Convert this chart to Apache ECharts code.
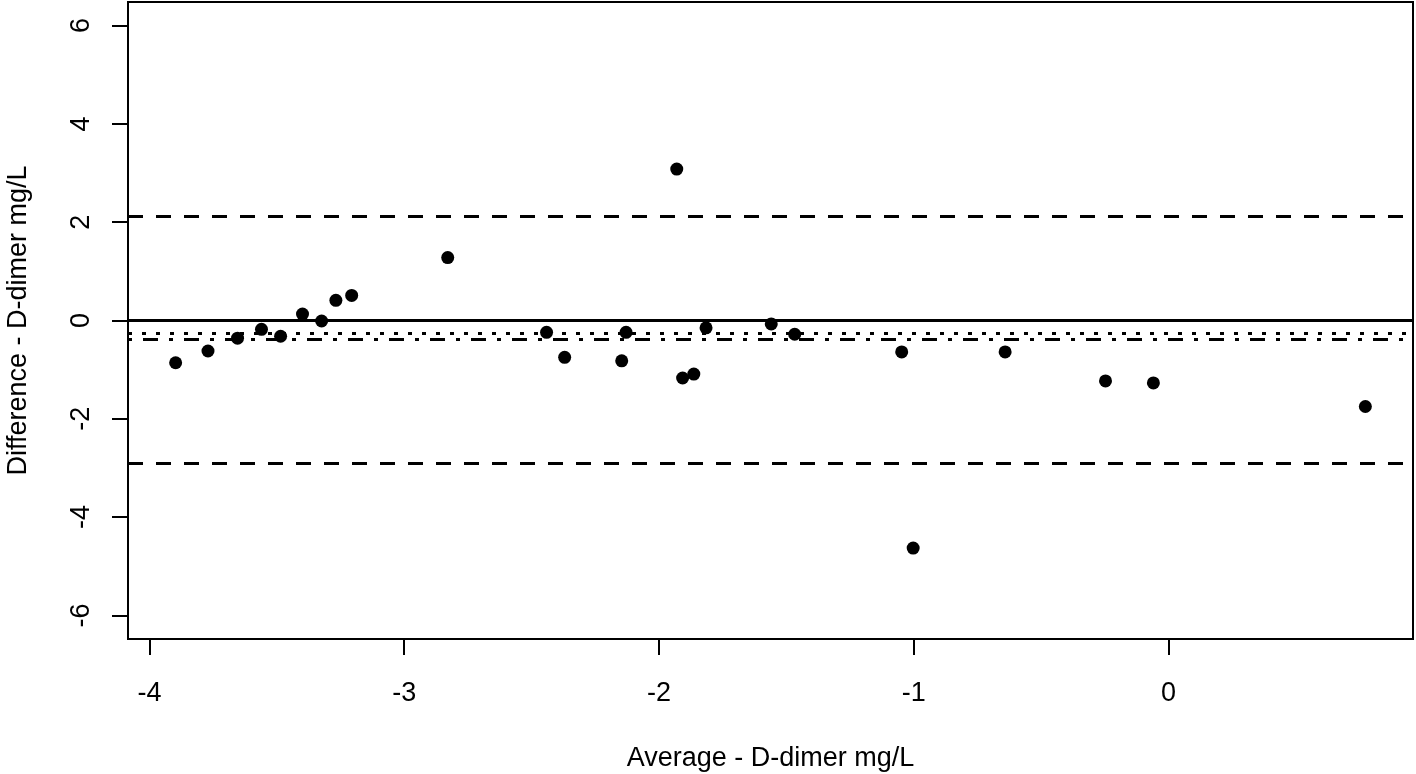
<!DOCTYPE html>
<html>
<head>
<meta charset="utf-8">
<title>Bland-Altman D-dimer</title>
<script src="https://cdn.jsdelivr.net/npm/echarts@6/dist/echarts.min.js"></script>
<style>
html, body { margin: 0; padding: 0; background: #fff; }
#baChart { width: 1416px; height: 774px; }
</style>
</head>
<body>
<div id="baChart"></div>
<script>
// average of the two methods (x) and their difference (y)
var avgValues = [-3.897, -3.770, -3.654, -3.560, -3.485, -3.399, -3.324, -3.268, -3.206, -2.829,
                 -2.441, -2.370, -2.146, -2.129, -1.930, -1.907, -1.863, -1.815, -1.559, -1.467,
                 -1.047, -1.002, -0.641, -0.247, -0.059, 0.773];
var diffValues = [-0.86, -0.62, -0.36, -0.18, -0.32, 0.13, -0.01, 0.41, 0.51, 1.28,
                  -0.24, -0.75, -0.82, -0.24, 3.08, -1.17, -1.09, -0.15, -0.07, -0.28,
                  -0.64, -4.63, -0.64, -1.23, -1.27, -1.75];
var xTicks = [-4, -3, -2, -1, 0];
var yTicks = [-6, -4, -2, 0, 2, 4, 6];

var zeroLine = 0;
var medianDiff = -0.26;
var meanDiff = -0.39;
var upperLimit = 2.12;
var lowerLimit = -2.90;

var _font = 'Liberation Sans, Arial, sans-serif';

(function(){
	draw_bland_altman();
})();

function draw_bland_altman(){
	var baChart = echarts.init(document.getElementById('baChart'));
	var points = avgValues.map(function(x, i){ return [x, diffValues[i]]; });

	var baChart_option = {
	    animation: false,
	    grid: {
	        left: 128, top: 2, width: 1285, height: 637,
	        outerBoundsMode: 'none',
	        show: true, borderColor: '#000', borderWidth: 2
	    },
	    xAxis: {
	        type: 'value',
	        min: -4.084, max: 0.96,
	        axisLine: { show: false, onZero: false },
	        splitLine: { show: false },
	        axisTick: { length: 16, lineStyle: { color: '#000', width: 2 }, customValues: xTicks },
	        axisLabel: { customValues: xTicks, color: '#000', fontSize: 27, fontFamily: _font, margin: 41 },
	        name: 'Average - D-dimer mg/L',
	        nameLocation: 'middle',
	        nameGap: 106,
	        nameTextStyle: { color: '#000', fontSize: 27, fontFamily: _font }
	    },
	    yAxis: {
	        type: 'value',
	        min: -6.48, max: 6.48,
	        axisLine: { show: false, onZero: false },
	        splitLine: { show: false },
	        axisTick: { length: 16, lineStyle: { color: '#000', width: 2 }, customValues: yTicks },
	        axisLabel: { customValues: yTicks, rotate: 90, color: '#000', fontSize: 27, fontFamily: _font, margin: 33 },
	        name: 'Difference - D-dimer mg/L',
	        nameLocation: 'middle',
	        nameGap: 96,
	        nameTextStyle: { color: '#000', fontSize: 27, fontFamily: _font }
	    },
	    series: [
	        {
	            type: 'scatter',
	            symbol: 'circle',
	            symbolSize: 13,
	            itemStyle: { color: '#000', opacity: 1 },
	            data: points,
	            markLine: {
	                silent: true,
	                symbol: 'none',
	                label: { show: false },
	                data: [
	                    { yAxis: zeroLine, lineStyle: { color: '#000', width: 3, type: 'solid' } },
	                    { yAxis: medianDiff, lineStyle: { color: '#000', width: 3, type: [4, 10] } },
	                    { yAxis: meanDiff, lineStyle: { color: '#000', width: 3, type: [4, 11, 15, 11] } },
	                    { yAxis: upperLimit, lineStyle: { color: '#000', width: 3, type: [15, 13] } },
	                    { yAxis: lowerLimit, lineStyle: { color: '#000', width: 3, type: [15, 13] } }
	                ]
	            }
	        }
	    ]
	};
	baChart.setOption(baChart_option);
}
</script>
</body>
</html>
